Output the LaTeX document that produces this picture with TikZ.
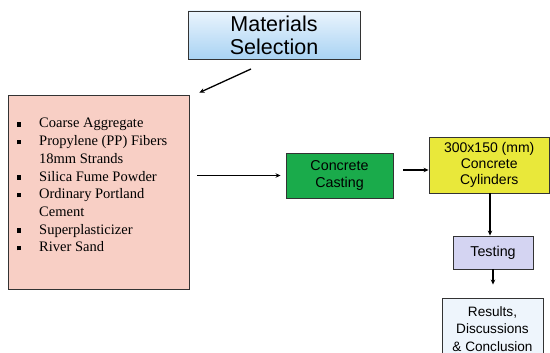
\documentclass[tikz,border=0pt]{standalone}
\usepackage{fontspec}
\setmainfont{Liberation Serif}
\setsansfont{Liberation Sans}
\usetikzlibrary{arrows.meta,shadows}
\definecolor{matTop}{HTML}{EAF4FD}
\definecolor{matBot}{HTML}{A9D3F3}
\definecolor{pinkfill}{HTML}{F8CFC5}
\definecolor{greenfill}{HTML}{1AAB4B}
\definecolor{yellowfill}{HTML}{E9E83A}
\definecolor{lavfill}{HTML}{D4D4F2}
\definecolor{resfill}{HTML}{EEF5FC}
\definecolor{edge}{HTML}{333333}
\tikzset{
  box/.style={draw=edge, line width=0.9pt, align=center, inner sep=0pt,
    font=\sffamily\fontsize{14.3}{17}\selectfont,
    drop shadow={shadow xshift=1pt, shadow yshift=-1pt, opacity=0.25, fill=black}},
  arr/.style={draw=black, line width=1.3pt, -{Stealth[length=5pt,width=4.5pt]}},
}
\begin{document}
\begin{tikzpicture}[x=1pt,y=-1pt]
\useasboundingbox (0,0) rectangle (550,353);
\node[box, top color=matTop, bottom color=matBot, minimum width=172pt, minimum height=48pt,
  font=\sffamily\fontsize{21.5}{23}\selectfont] (mat) at (274,35) {Materials\\Selection};
\node[box, fill=pinkfill, minimum width=181pt, minimum height=194pt] (pink) at (98.5,192) {};
\node[anchor=base west, inner sep=0pt, font=\rmfamily\fontsize{14.5}{17.7}\selectfont] (mats) at (16.7,128)
 {\begin{tabular}[t]{@{}p{22.3pt}@{}l@{}}
 \rule[1.4pt]{4.6pt}{4.6pt} & Coarse Aggregate\\
 \rule[1.4pt]{4.6pt}{4.6pt} & Propylene (PP) Fibers\\
  & 18mm Strands\\
 \rule[1.4pt]{4.6pt}{4.6pt} & Silica Fume Powder\\
 \rule[1.4pt]{4.6pt}{4.6pt} & Ordinary Portland\\
  & Cement\\
 \rule[1.4pt]{4.6pt}{4.6pt} & Superplasticizer\\
 \rule[1.4pt]{4.6pt}{4.6pt} & River Sand
 \end{tabular}};
\node[box, fill=greenfill, minimum width=107pt, minimum height=45pt] (cast) at (339.5,175.5) {Concrete\\Casting};
\node[box, fill=yellowfill, minimum width=120.5pt, minimum height=56pt,
  font=\sffamily\fontsize{14}{16}\selectfont] (cyl) at (489.25,165) {300x150 (mm)\\Concrete\\Cylinders};
\node[box, fill=resfill, minimum width=101pt, minimum height=64pt] (res) at (492.5,330) {};
\node[inner sep=0pt, align=center, font=\sffamily\fontsize{13.6}{17.2}\selectfont] (restxt) at (492.5,329)
  {Results,\\Discussions\\\& Conclusion};
\node[box, fill=lavfill, minimum width=80pt, minimum height=33pt] (test) at (493,252.5) {Testing};
\coordinate (a1) at (251,69);
\draw[arr] (a1) -- ([xshift=10pt,yshift=2pt]pink.north east);
\draw[arr, shorten <=8pt, shorten >=5pt] (cast.west -| pink.east) -- (cast.west);
\draw[arr, shorten <=10pt] ([yshift=5.5pt]cast.east) -- ([yshift=5.5pt]cast.east -| cyl.west);
\draw[arr] (cyl.south -| 490,0) -- (test.north -| 490,0);
\draw[arr, shorten >=13pt] (test.south) -- (test.south |- res.north);
\end{tikzpicture}
\end{document}
